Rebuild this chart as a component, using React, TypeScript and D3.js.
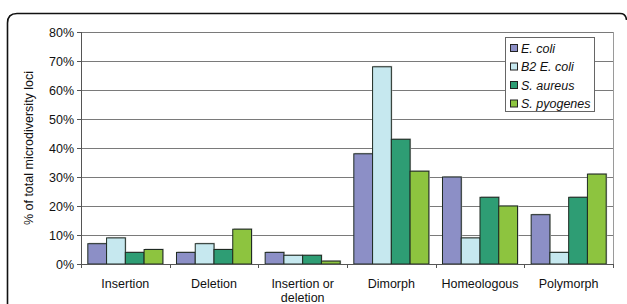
import * as d3 from "d3";

const categories = ["Insertion", "Deletion", "Insertion or deletion", "Dimorph", "Homeologous", "Polymorph"];
const seriesNames = ["E. coli", "B2 E. coli", "S. aureus", "S. pyogenes"];
const seriesColors = ["#8C8FC6", "#C6E8EF", "#2E9D74", "#8DC43F"];
const eColi = [7, 4, 4, 38, 30, 17];
const b2EColi = [9, 7, 3, 68, 9, 4];
const sAureus = [4, 5, 3, 43, 23, 23];
const sPyogenes = [5, 12, 1, 32, 20, 31];
const yTicks = [0, 10, 20, 30, 40, 50, 60, 70, 80];

const series = [eColi, b2EColi, sAureus, sPyogenes];

export default function App() {
  const width = 627;
  const height = 304;
  const left = 81, right = 613, top = 32, bottom = 264;
  const font = "'Liberation Sans', Arial, sans-serif";

  const x = d3.scaleBand<string>().domain(categories).range([left, right]).paddingInner(0).paddingOuter(0);
  const inner = d3.scaleBand<string>().domain(seriesNames).range([0, x.bandwidth()]).paddingInner(0).paddingOuter(0.3636);
  const y = d3.scaleLinear().domain([0, 80]).range([bottom, top]);

  const labelLines = (c: string) => (c === "Insertion or deletion" ? ["Insertion or", "deletion"] : [c]);

  return (
    <div style={{ position: "absolute", left: 0, top: 0 }}>
      <svg width={width} height={height} style={{ display: "block" }}>
        <path
          d={`M7.5,310 L7.5,23 Q7.5,13.5 17,13.5 L620,13.5 Q626,13.5 626.5,20`}
          fill="none"
          stroke="#111"
          strokeWidth={1.6}
        />
        {/* gridlines */}
        {yTicks.map(t => (
          <line key={t} x1={left} x2={right} y1={Math.round(y(t)) + 0.5} y2={Math.round(y(t)) + 0.5} stroke="#7a7a7a" strokeWidth={1} />
        ))}
        <line x1={right + 0.5} x2={right + 0.5} y1={top} y2={bottom} stroke="#9a9a9a" />
        {/* y axis */}
        <line x1={left + 0.5} x2={left + 0.5} y1={top} y2={bottom + 0.5} stroke="#555" />
        {yTicks.map(t => (
          <g key={"yt" + t}>
            <line x1={left - 4} x2={left} y1={Math.round(y(t)) + 0.5} y2={Math.round(y(t)) + 0.5} stroke="#555" />
            <text x={left - 7} y={y(t) + 4.5} textAnchor="end" fontFamily={font} fontSize={12.5} fill="#111">
              {t}%
            </text>
          </g>
        ))}
        <text
          transform={`translate(33,${(top + bottom) / 2}) rotate(-90)`}
          textAnchor="middle"
          fontFamily={font}
          fontSize={12.5}
          fill="#111"
        >
          % of total microdiversity loci
        </text>
        {/* bars */}
        {categories.map((c, ci) => (
          <g key={c} transform={`translate(${x(c)},0)`}>
            {series.map((vals, si) => {
              const bx = inner(seriesNames[si])!;
              const by = y(vals[ci]);
              return (
                <g key={si}>
                  <rect x={bx + 1} y={by - 1} width={inner.bandwidth()} height={bottom - by + 1} fill="#c8c8c8" />
                  <rect
                    x={bx}
                    y={by}
                    width={inner.bandwidth()}
                    height={bottom - by}
                    fill={seriesColors[si]}
                    stroke="#1e2a22"
                    strokeWidth={1}
                  />
                </g>
              );
            })}
          </g>
        ))}
        {/* x axis */}
        <line x1={left} x2={right + 1} y1={bottom + 0.5} y2={bottom + 0.5} stroke="#555" />
        {categories.concat([""]).map((c, i) => {
          const tx = Math.round(left + i * x.bandwidth()) + 0.5;
          return <line key={"xt" + i} x1={tx} x2={tx} y1={bottom} y2={bottom + 4} stroke="#555" />;
        })}
        {categories.map(c => (
          <text key={"xl" + c} x={x(c)! + x.bandwidth() / 2} y={288} textAnchor="middle" fontFamily={font} fontSize={12.5} fill="#111">
            {labelLines(c).map((l, li) => (
              <tspan key={li} x={x(c)! + x.bandwidth() / 2} dy={li === 0 ? 0 : 14}>
                {l}
              </tspan>
            ))}
          </text>
        ))}
        {/* legend */}
        <rect x={505.5} y={37.5} width={89} height={74} fill="#fff" stroke="#666" />
        {seriesNames.map((n, i) => (
          <g key={n} transform={`translate(510,${44 + i * 18.5})`}>
            <rect x={0.5} y={0.5} width={7} height={7} fill={seriesColors[i]} stroke="#222" />
            <text x={11} y={8.5} fontFamily={font} fontSize={12.5} fontStyle="italic" fill="#111">
              {n}
            </text>
          </g>
        ))}
      </svg>
    </div>
  );
}
